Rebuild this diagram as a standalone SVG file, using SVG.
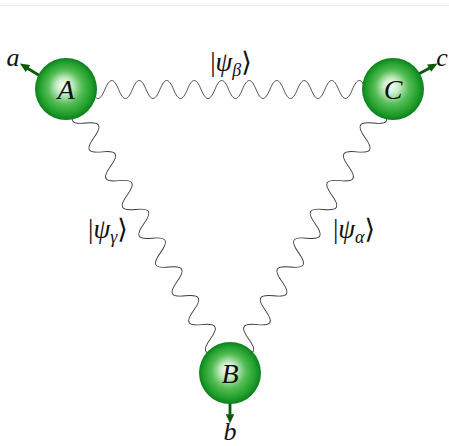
<svg xmlns="http://www.w3.org/2000/svg" width="449" height="446" viewBox="0 0 449 446">
<style>
.wave{fill:none;stroke:#3a3a3a;stroke-width:0.9}
.arr{stroke:#0b5a0b;stroke-width:2.8;fill:none}
.ball{fill:url(#ballg)}
.nl{font-family:"Liberation Serif","DejaVu Serif",serif;font-style:italic;font-size:28px;fill:#111;text-anchor:middle}
.sm{font-size:26px}
.lb{font-family:"Liberation Serif","DejaVu Serif",serif;font-size:27px;fill:#111;text-anchor:middle}
.it{font-style:italic}
</style>
<defs>
<radialGradient id="ballg" cx="50%" cy="50%" r="50%" fx="46%" fy="44%">
<stop offset="0" stop-color="#fbfefb"/>
<stop offset="0.25" stop-color="#c8ecc8"/>
<stop offset="0.55" stop-color="#55bd55"/>
<stop offset="0.85" stop-color="#1e9e2a"/>
<stop offset="1" stop-color="#0e7e1e"/>
</radialGradient>
<marker id="ah" markerUnits="userSpaceOnUse" markerWidth="10" markerHeight="10" refX="0.5" refY="0" viewBox="0 -4 9 8" orient="auto" overflow="visible">
<path d="M0,-3.8 L8.5,0 L0,3.8 z" fill="#0b5a0b"/>
</marker>
</defs>
<line x1="0" y1="5.5" x2="449" y2="5.5" stroke="#ececec" stroke-width="1"/>
<g id="connectors">
<path class="wave" transform="translate(0,89.5)" d="M91.125,0 c4.95,12 8.8,12 13.75,0 4.95,-12 8.8,-12 13.75,0 4.95,12 8.8,12 13.75,0 4.95,-12 8.8,-12 13.75,0 4.95,12 8.8,12 13.75,0 4.95,-12 8.8,-12 13.75,0 4.95,12 8.8,12 13.75,0 4.95,-12 8.8,-12 13.75,0 4.95,12 8.8,12 13.75,0 4.95,-12 8.8,-12 13.75,0 4.95,12 8.8,12 13.75,0 4.95,-12 8.8,-12 13.75,0 4.95,12 8.8,12 13.75,0 4.95,-12 8.8,-12 13.75,0 4.95,12 8.8,12 13.75,0 4.95,-12 8.8,-12 13.75,0 4.95,12 8.8,12 13.75,0 4.95,-12 8.8,-12 13.75,0 4.95,12 8.8,12 13.75,0 4.95,-12 8.8,-12 13.75,0"/>
<path class="wave" transform="translate(66,89) rotate(60)" d="M22.69,0 c5.985,13.5 10.64,13.5 16.625,0 5.985,-13.5 10.64,-13.5 16.625,0 5.985,13.5 10.64,13.5 16.625,0 5.985,-13.5 10.64,-13.5 16.625,0 5.985,13.5 10.64,13.5 16.625,0 5.985,-13.5 10.64,-13.5 16.625,0 5.985,13.5 10.64,13.5 16.625,0 5.985,-13.5 10.64,-13.5 16.625,0 5.985,13.5 10.64,13.5 16.625,0 5.985,-13.5 10.64,-13.5 16.625,0 5.985,13.5 10.64,13.5 16.625,0 5.985,-13.5 10.64,-13.5 16.625,0 5.985,13.5 10.64,13.5 16.625,0 5.985,-13.5 10.64,-13.5 16.625,0 5.985,13.5 10.64,13.5 16.625,0 5.985,-13.5 10.64,-13.5 16.625,0 5.985,13.5 10.64,13.5 16.625,0"/>
<path class="wave" transform="translate(393,89) rotate(120)" d="M22.69,0 c5.985,-13.5 10.64,-13.5 16.625,0 5.985,13.5 10.64,13.5 16.625,0 5.985,-13.5 10.64,-13.5 16.625,0 5.985,13.5 10.64,13.5 16.625,0 5.985,-13.5 10.64,-13.5 16.625,0 5.985,13.5 10.64,13.5 16.625,0 5.985,-13.5 10.64,-13.5 16.625,0 5.985,13.5 10.64,13.5 16.625,0 5.985,-13.5 10.64,-13.5 16.625,0 5.985,13.5 10.64,13.5 16.625,0 5.985,-13.5 10.64,-13.5 16.625,0 5.985,13.5 10.64,13.5 16.625,0 5.985,-13.5 10.64,-13.5 16.625,0 5.985,13.5 10.64,13.5 16.625,0 5.985,-13.5 10.64,-13.5 16.625,0 5.985,13.5 10.64,13.5 16.625,0 5.985,-13.5 10.64,-13.5 16.625,0"/>
<line class="arr" x1="45" y1="79" x2="27.5" y2="68.2" marker-end="url(#ah)"/>
<line class="arr" x1="415" y1="76" x2="429.7" y2="67.9" marker-end="url(#ah)"/>
<line class="arr" x1="230" y1="400" x2="230" y2="414.7" marker-end="url(#ah)"/>
</g>
<g id="node-A">
<circle class="ball" cx="66" cy="89" r="31"/>
<text class="nl" x="66" y="99">A</text>
</g>
<g id="node-C">
<circle class="ball" cx="393" cy="89" r="31"/>
<text class="nl" x="393" y="99">C</text>
</g>
<g id="node-B">
<circle class="ball" cx="230" cy="373" r="31"/>
<text class="nl" x="230" y="383">B</text>
</g>
<g id="labels">
<text class="nl sm" x="13" y="66">a</text>
<text class="nl sm" x="442" y="66">c</text>
<text class="nl sm" x="230" y="440">b</text>
<text class="lb" x="231" y="71">|<tspan class="it">ψ</tspan><tspan class="it" font-size="18" dy="5">β</tspan><tspan dy="-5">⟩</tspan></text>
<text class="lb" x="108" y="238">|<tspan class="it">ψ</tspan><tspan class="it" font-size="18" dy="5">γ</tspan><tspan dy="-5">⟩</tspan></text>
<text class="lb" x="354" y="238">|<tspan class="it">ψ</tspan><tspan class="it" font-size="18" dy="5">α</tspan><tspan dy="-5">⟩</tspan></text>
</g>
</svg>
